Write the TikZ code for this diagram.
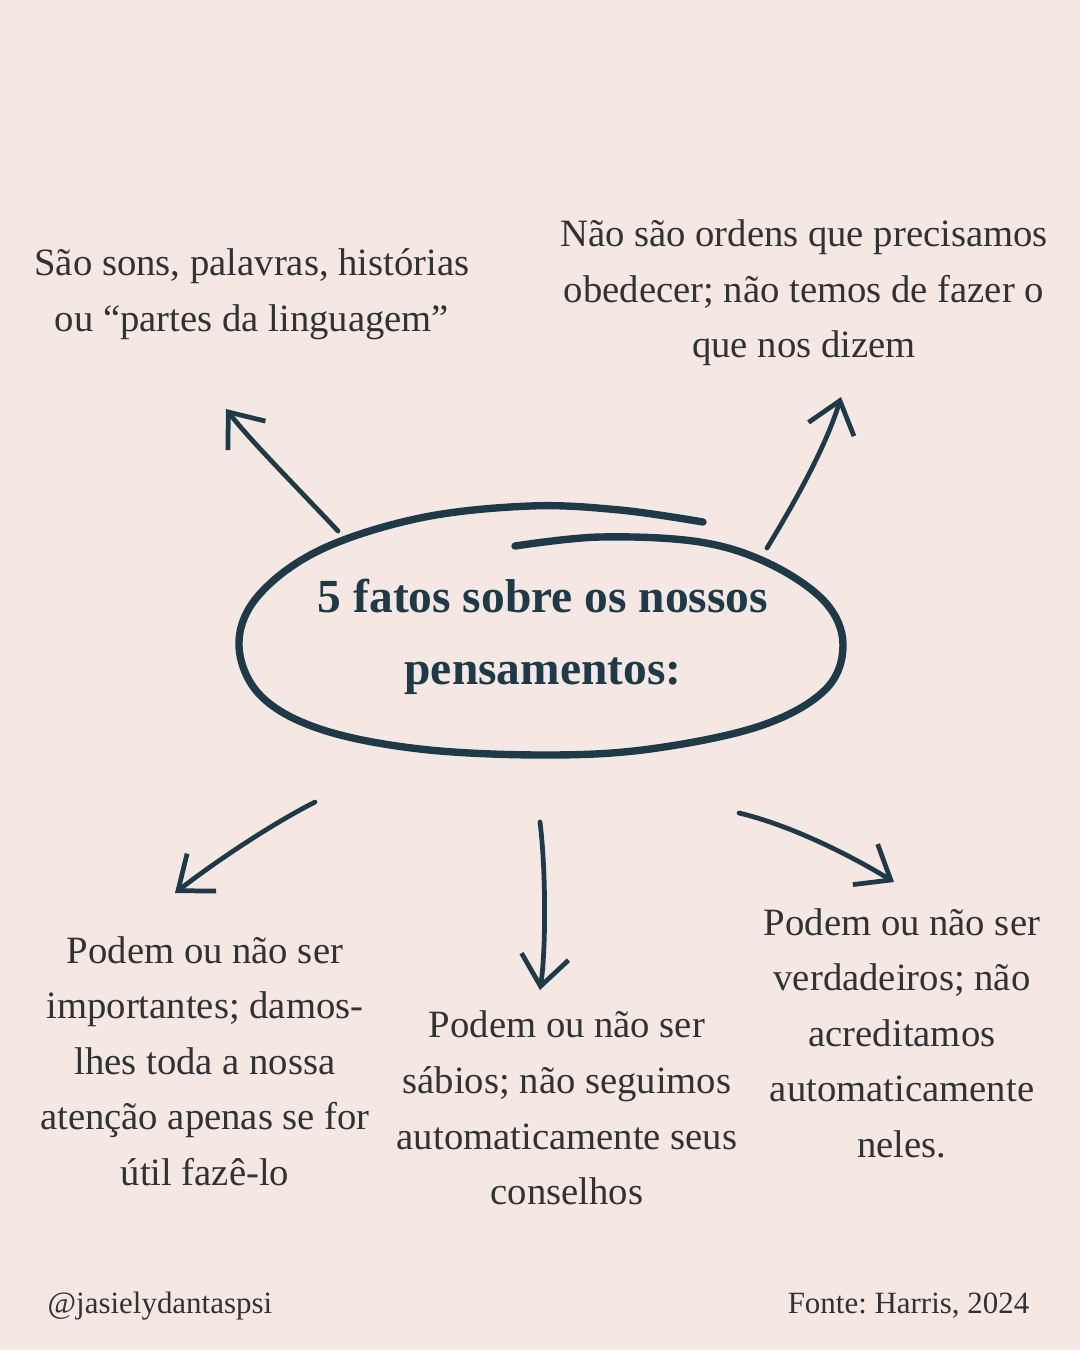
\documentclass[tikz,border=0pt]{standalone}
\usepackage{fontspec}
\setmainfont{Liberation Serif}
\usetikzlibrary{arrows.meta}
\definecolor{fundo}{HTML}{F5E7E2}
\definecolor{traco}{HTML}{1D3A48}
\definecolor{letra}{HTML}{2E3336}
\frenchspacing

\begin{document}
\begin{tikzpicture}[x=0.01cm, y=-0.01cm,
  every node/.style = {align=center, text=letra, font=\fontsize{11}{15.8}\selectfont},
  rodape/.style = {inner xsep=0pt, font=\fontsize{8.8}{10}\selectfont},
  seta/.style = {draw=traco, line width=1.35pt, line cap=round,
    -{Straight Barb[length=8.5pt, width=13.5pt, line width=1.35pt]}}]
\fill[fundo] (0,0) rectangle (1080,1350);
\useasboundingbox (0,0) rectangle (1080,1350);

\node (fatos) at (543,637) [text=traco, font=\fontsize{13.5}{20.5}\selectfont\bfseries]
  {5 fatos sobre os nossos\\pensamentos:};
\draw[traco, line width=2.1pt, line cap=round] plot[smooth, tension=0.6] coordinates {
  (515,546) (600,537) (700,542) (770,564) (825,602) (843,645) (825,690)
  (760,726) (650,749) (545,755) (420,749) (320,729) (260,695) (239,645)
  (258,596) (320,550) (420,518) (530,506) (620,510) (703,522)};

\node (sons) at (252,294) {São sons, palavras, histórias\\ou “partes da linguagem”};
\node (ordens) at (804,293) {Não são ordens que precisamos\\obedecer; não temos de fazer o\\que nos dizem};
\node (importantes) at (205,1061) {Podem ou não ser\\importantes; damos-\\lhes toda a nossa\\atenção apenas se for\\útil fazê-lo};
\node (sabios) at (567,1108) {Podem ou não ser\\sábios; não seguimos\\automaticamente seus\\conselhos};
\node (verdadeiros) at (902,1033) {Podem ou não ser\\verdadeiros; não\\acreditamos\\automaticamente\\neles.};

\node (perfil) at (47,1313) [rodape, anchor=base west] {@jasielydantaspsi};
\node (fonte) at (1030,1313) [rodape, anchor=base east] {Fonte: Harris, 2024};

\coordinate (sons-0) at (338,531);
\coordinate (sons-1) at (226,409);
\coordinate (ordens-0) at (767,548);
\coordinate (ordens-1) at (841,397);
\coordinate (importantes-0) at (315,802);
\coordinate (importantes-1) at (175,893);
\coordinate (sabios-0) at (540,822);
\coordinate (sabios-1) at (540,990);
\coordinate (verdadeiros-0) at (739,813);
\coordinate (verdadeiros-1) at (894,882);

\draw[seta] (sons-0) .. controls (290,480) and (250,440) .. (sons-1);
\draw[seta] (ordens-0) .. controls (790,510) and (825,450) .. (ordens-1);
\draw[seta] (importantes-0) .. controls (270,825) and (215,862) .. (importantes-1);
\draw[seta] (sabios-0) .. controls (546,870) and (546,950) .. (sabios-1);
\draw[seta] (verdadeiros-0) .. controls (790,825) and (850,855) .. (verdadeiros-1);
\end{tikzpicture}
\end{document}
